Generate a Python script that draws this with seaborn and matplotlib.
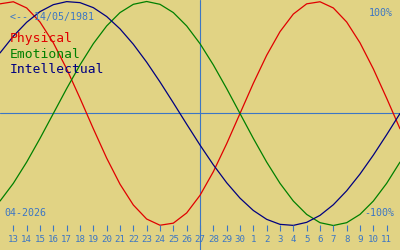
import matplotlib
matplotlib.use("Agg")
import matplotlib.pyplot as plt
import matplotlib.transforms as mtransforms
import seaborn as sns
import pandas as pd

# ---- data (days 12 Apr 2026 .. 12 May 2026) ----
day_labels = ["12", "13", "14", "15", "16", "17", "18", "19", "20", "21", "22",
              "23", "24", "25", "26", "27", "28", "29", "30", "1", "2", "3",
              "4", "5", "6", "7", "8", "9", "10", "11", "12"]
physical = [0.9791, 0.9977, 0.9423, 0.8170, 0.6311, 0.3984, 0.1362, -0.1362,
            -0.3984, -0.6311, -0.8170, -0.9423, -0.9977, -0.9791, -0.8879,
            -0.7308, -0.5196, -0.2698, 0.0, 0.2698, 0.5196, 0.7308, 0.8879,
            0.9791, 0.9977, 0.9423, 0.8170, 0.6311, 0.3984, 0.1362, -0.1362]
emotional = [-0.7818, -0.6235, -0.4339, -0.2225, 0.0, 0.2225, 0.4339, 0.6235,
             0.7818, 0.9010, 0.9749, 1.0, 0.9749, 0.9010, 0.7818, 0.6235,
             0.4339, 0.2225, 0.0, -0.2225, -0.4339, -0.6235, -0.7818, -0.9010,
             -0.9749, -1.0, -0.9749, -0.9010, -0.7818, -0.6235, -0.4339]
intellectual = [0.5406, 0.6901, 0.8146, 0.9096, 0.9718, 0.9989, 0.9898, 0.9450,
                0.8660, 0.7557, 0.6182, 0.4582, 0.2817, 0.0951, -0.0951,
                -0.2817, -0.4582, -0.6182, -0.7557, -0.8660, -0.9450, -0.9898,
                -0.9989, -0.9718, -0.9096, -0.8146, -0.6901, -0.5406, -0.3717,
                -0.1893, 0.0]
series_names = ["Physical", "Emotional", "Intellectual"]
today_index = 15
birth_label = "<-- 14/05/1981"
month_label = "04-2026"
top_label = "100%"
bottom_label = "-100%"

# ---- style ----
BG = "#E1D384"
BLUE = "#3C76C4"
colors = {"Physical": "#E00000", "Emotional": "#008000", "Intellectual": "#000080"}
MONO = "DejaVu Sans Mono"

sns.set_style("white", {"axes.facecolor": BG, "figure.facecolor": BG})
plt.rcParams["font.family"] = [MONO]

rows = []
for name, vals in zip(series_names, [physical, emotional, intellectual]):
    for i, v in enumerate(vals):
        rows.append({"idx": i, "value": v, "series": name})
df = pd.DataFrame(rows)

fig = plt.figure(figsize=(4, 2.5), dpi=100)
ax = fig.add_axes([0, 0, 1, 1])
ax.set_facecolor(BG)

ax.axhline(0, color=BLUE, lw=0.8, zorder=1)
ax.axvline(today_index, color=BLUE, lw=0.8, zorder=1)

sns.lineplot(data=df, x="idx", y="value", hue="series", hue_order=series_names,
             palette=colors, legend=False, linewidth=0.9, ax=ax, zorder=2)

ax.set_xlim(0, len(day_labels) - 1)
ax.set_ylim(-1.2188, 1.0134)
ax.set_xlabel("")
ax.set_ylabel("")
ax.set_yticks([])
ax.set_xticks([])
for s in ax.spines.values():
    s.set_visible(False)

# day ticks and labels along the bottom
tick_pos = list(range(1, len(day_labels) - 1))
blend = mtransforms.blended_transform_factory(ax.transData, ax.transAxes)
ax.vlines(tick_pos, 1 - 230.5 / 250, 1 - 225 / 250, transform=blend,
          color=BLUE, lw=0.8)
for i in tick_pos:
    ax.text(i, 1 - 241.5 / 250, day_labels[i], transform=blend, color=BLUE,
            fontsize=6.6, ha="center", va="baseline")

def px(x, y):
    return x / 400, 1 - y / 250

ax.text(*px(10, 20), birth_label, transform=ax.transAxes, color=BLUE,
        fontsize=7.2, va="baseline", ha="left")
for name, base in zip(series_names, [42, 57.5, 73]):
    ax.text(*px(10, base), name, transform=ax.transAxes, color=colors[name],
            fontsize=9.4, va="baseline", ha="left")
ax.text(*px(393, 16), top_label, transform=ax.transAxes, color=BLUE,
        fontsize=7.2, va="baseline", ha="right")
ax.text(*px(394, 215.5), bottom_label, transform=ax.transAxes, color=BLUE,
        fontsize=7.2, va="baseline", ha="right")
ax.text(*px(4, 215.5), month_label, transform=ax.transAxes, color=BLUE,
        fontsize=7.2, va="baseline", ha="left")

fig.savefig("out.png", dpi=100, facecolor=BG)
